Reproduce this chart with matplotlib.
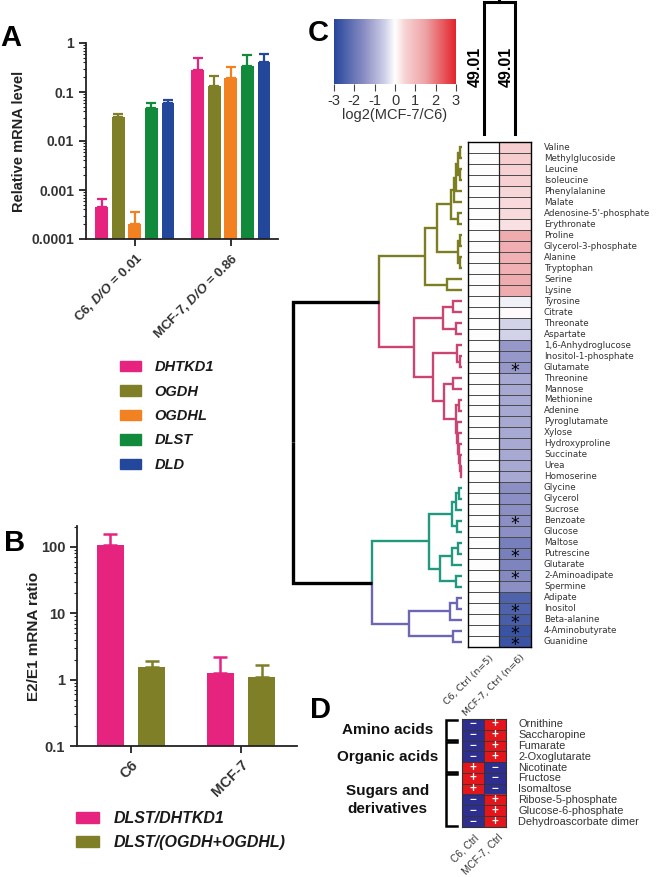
import numpy as np
import matplotlib.pyplot as plt
import matplotlib.patches as mpatches
from matplotlib.colors import LinearSegmentedColormap, ListedColormap
from matplotlib.ticker import NullFormatter

plt.rcParams['font.family'] = ['Liberation Sans', 'DejaVu Sans']
plt.rcParams['mathtext.fontset'] = 'custom'
plt.rcParams['mathtext.bfit'] = 'Liberation Sans:bold:italic'

# ---------------- data ----------------
# panel A
genes = ['DHTKD1', 'OGDH', 'OGDHL', 'DLST', 'DLD']
gene_colors = ['#e6247f', '#7f7f27', '#f28121', '#118a3c', '#23489b']
a_cells = ['C6, $\\mathbfit{D/O}$ = 0.01', 'MCF-7, $\\mathbfit{D/O}$ = 0.86']
a_c6 = [0.00045, 0.031, 0.0002, 0.047, 0.061]
a_c6_err = [0.00022, 0.005, 0.00015, 0.014, 0.008]
a_mcf = [0.28, 0.13, 0.19, 0.34, 0.40]
a_mcf_err = [0.21, 0.08, 0.14, 0.24, 0.20]

# panel B
b_cells = ['C6', 'MCF-7']
b_ratios = ['DLST/DHTKD1', 'DLST/(OGDH+OGDHL)']
b_dhtkd1 = [105, 1.26]
b_dhtkd1_err = [52, 0.93]
b_ogdh = [1.55, 1.08]
b_ogdh_err = [0.33, 0.6]

# panel C
metabolites = ['Valine', 'Methylglucoside', 'Leucine', 'Isoleucine', 'Phenylalanine',
               'Malate', "Adenosine-5'-phosphate", 'Erythronate', 'Proline',
               'Glycerol-3-phosphate', 'Alanine', 'Tryptophan', 'Serine', 'Lysine',
               'Tyrosine', 'Citrate', 'Threonate', 'Aspartate', '1,6-Anhydroglucose',
               'Inositol-1-phosphate', 'Glutamate', 'Threonine', 'Mannose', 'Methionine',
               'Adenine', 'Pyroglutamate', 'Xylose', 'Hydroxyproline', 'Succinate', 'Urea',
               'Homoserine', 'Glycine', 'Glycerol', 'Sucrose', 'Benzoate', 'Glucose',
               'Maltose', 'Putrescine', 'Glutarate', '2-Aminoadipate', 'Spermine',
               'Adipate', 'Inositol', 'Beta-alanine', '4-Aminobutyrate', 'Guanidine']
log2_c6 = [0.0] * 46
log2_mcf = [0.6, 0.6, 0.55, 0.55, 0.45, 0.4, 0.4, 0.35, 1.3, 1.25, 1.2, 1.2, 1.3, 1.3,
            -0.15, 0.05, -0.45, -0.45, -1.35, -1.35, -1.35, -1.1, -1.1, -1.1,
            -1.1, -1.1, -1.1, -1.1, -1.1, -1.1, -1.1, -1.5, -1.5, -1.5, -1.5, -1.5,
            -1.8, -1.8, -1.7, -1.6, -1.5, -2.4, -2.4, -2.5, -2.7, -2.7]
significant = ['Glutamate', 'Benzoate', 'Putrescine', '2-Aminoadipate', 'Inositol',
               'Beta-alanine', '4-Aminobutyrate', 'Guanidine']
heat_cols = ['C6, Ctrl (n=5)', 'MCF-7, Ctrl (n=6)']
cluster_sizes = [14, 17, 10, 5]
cluster_colors = ['#7d7d22', '#cc4470', '#21987f', '#6c66b5']
col_tree_height = 49.01

# row dendrogram: (left, right, height)
y1 = (((((0, 1, 2), (2, 3, 2), 4), 4, 6), 5, 8), (6, 7, 4), 11)
y2 = ((8, 9, 2), (10, 11, 2), 4)
yellow = ((y1, y2, 25), (12, 13, 15), 37)
p_up = ((14, 15, 9), (16, 17, 6), 19)
b2 = ((23, 24, 3), (25, (26, (27, (28, (29, 30, 1), 2), 3), 4), 5), 6)
p_low = ((18, (19, 20, 2), 5), ((21, 22, 9), b2, 18), 29)
pink = (p_up, p_low, 48)
green = ((((31, 32, 3), 33, 6), (34, 35, 5), 10), (((36, 37, 4), 38, 10), (39, 40, 6), 22), 33)
purple = ((((41, 42, 5), 43, 12), (44, 45, 9), 53))
row_tree = ((yellow, pink, 83), (green, purple, 90), 169)

# panel D
d_metabolites = ['Ornithine', 'Saccharopine', 'Fumarate', '2-Oxoglutarate', 'Nicotinate',
                 'Fructose', 'Isomaltose', 'Ribose-5-phosphate', 'Glucose-6-phosphate',
                 'Dehydroascorbate dimer']
d_c6 = [-1, -1, -1, -1, 1, 1, 1, -1, -1, -1]
d_mcf = [1, 1, 1, 1, -1, -1, -1, 1, 1, 1]
d_groups = ['Amino acids', 'Organic acids', 'Sugars and\nderivatives']
d_group_sizes = [2, 3, 5]
d_cols = ['C6, Ctrl', 'MCF-7, Ctrl']

# ---------------- figure ----------------
W, H = 657, 877
fig = plt.figure(figsize=(6.57, 8.77), dpi=100)
dark = '#333333'


def box(l, t, r, b):
    return fig.add_axes([l / W, 1 - b / H, (r - l) / W, (b - t) / H])


def fx(x):
    return x / W


def fy(y):
    return 1 - y / H


def style_bar_axes(ax):
    ax.spines['top'].set_visible(False)
    ax.spines['right'].set_visible(False)
    for s in ('left', 'bottom'):
        ax.spines[s].set_linewidth(1.3)
        ax.spines[s].set_color('#222222')
    ax.tick_params(which='major', length=5, width=1.3, color='#222222', labelcolor=dark)
    ax.tick_params(which='minor', length=2.5, width=0.8, color='#222222')
    ax.yaxis.set_minor_formatter(NullFormatter())


# panel A
axA = box(86, 43, 278, 239)
axA.set_yscale('log')
xa = np.arange(len(a_cells))
for k, g in enumerate(genes):
    pos = xa + (k - 2) * 0.172
    vals = [a_c6[k], a_mcf[k]]
    errs = [a_c6_err[k], a_mcf_err[k]]
    axA.bar(pos, vals, 0.135, color=gene_colors[k])
    axA.errorbar(pos, vals, yerr=[[0, 0], errs], fmt='none', ecolor=gene_colors[k],
                 elinewidth=1.6, capsize=3.4, capthick=1.6)
axA.set_ylim(1e-4, 1)
axA.set_xlim(-0.51, 1.49)
axA.set_yticks([1e-4, 1e-3, 1e-2, 0.1, 1])
axA.set_yticklabels(['0.0001', '0.001', '0.01', '0.1', '1'], fontsize=10, fontweight='bold')
axA.set_xticks(xa)
axA.set_xticklabels(a_cells, rotation=45, ha='right', rotation_mode='anchor',
                    fontsize=9.5, fontweight='bold')
axA.set_ylabel('Relative mRNA level', fontsize=10.5, fontweight='bold', color='#222222', labelpad=4)
style_bar_axes(axA)

fig.legend(handles=[mpatches.Patch(color=c, label=g) for g, c in zip(genes, gene_colors)],
           loc='upper left', bbox_to_anchor=(fx(120), fy(360)), frameon=False,
           prop={'weight': 'bold', 'style': 'italic', 'size': 10.5},
           handlelength=1.45, handleheight=0.75, handletextpad=0.9, labelspacing=0.72,
           borderpad=0, borderaxespad=0, labelcolor='#1a1a1a')

# panel B
axB = box(77, 526, 297, 746)
axB.set_yscale('log')
xb = np.arange(len(b_cells))
b_colors = [gene_colors[0], gene_colors[1]]
for k, (vals, errs) in enumerate([(b_dhtkd1, b_dhtkd1_err), (b_ogdh, b_ogdh_err)]):
    pos = xb + (k - 0.5) * 0.375
    axB.bar(pos, vals, 0.245, color=b_colors[k], label=b_ratios[k])
    axB.errorbar(pos, vals, yerr=[[0, 0], errs], fmt='none', ecolor=b_colors[k],
                 elinewidth=1.8, capsize=5, capthick=1.8)
axB.set_ylim(0.1, 206)
axB.set_xlim(-0.49, 1.51)
axB.set_yticks([0.1, 1, 10, 100])
axB.set_yticklabels(['0.1', '1', '10', '100'], fontsize=10.5, fontweight='bold')
axB.set_xticks(xb)
axB.set_xticklabels(b_cells, rotation=45, ha='right', rotation_mode='anchor',
                    fontsize=10.5, fontweight='bold')
axB.set_ylabel('E2/E1 mRNA ratio', fontsize=11, fontweight='bold', color='#222222', labelpad=0)
style_bar_axes(axB)

fig.legend(handles=[mpatches.Patch(color=c, label=r) for r, c in zip(b_ratios, b_colors)],
           loc='upper left', bbox_to_anchor=(fx(76), fy(811)), frameon=False,
           prop={'weight': 'bold', 'style': 'italic', 'size': 11.5},
           handlelength=1.45, handleheight=0.7, handletextpad=0.9, labelspacing=0.55,
           borderpad=0, borderaxespad=0, labelcolor='#1a1a1a')

# panel C: colour bar
cmap = LinearSegmentedColormap.from_list('bwr_c', [
    (0.0, '#27479c'), (0.25, '#8c8fc4'), (0.4167, '#cfd0e8'), (0.5, '#ffffff'),
    (0.5833, '#f7d3d5'), (0.75, '#eea3a7'), (1.0, '#e3242b')])
axCb = box(334, 19, 456, 84)
axCb.imshow(np.linspace(-3, 3, 256)[None, :], cmap=cmap, vmin=-3, vmax=3,
            extent=(-3, 3, 0, 1), aspect='auto')
for s in axCb.spines.values():
    s.set_visible(False)
axCb.set_yticks([])
ticks = np.arange(-3, 4)
axCb.set_xticks(ticks)
axCb.set_xticklabels([str(t) for t in ticks], fontsize=10.5, color=dark)
axCb.tick_params(axis='x', length=5, width=0.8, color='#444444', pad=2)
axCb.set_xlabel('log2(MCF-7/C6)', fontsize=10.5, color=dark, labelpad=0)

# column dendrogram
axCt = box(468, 2, 531, 134)
axCt.set_xlim(0, 2)
axCt.set_ylim(0, col_tree_height)
axCt.axis('off')
axCt.plot([0.5, 0.5, 1.5, 1.5], [0, col_tree_height, col_tree_height, 0],
          color='black', lw=2.2, solid_joinstyle='miter', clip_on=False)
axCt.plot([1, 1], [col_tree_height, col_tree_height + 1], color='black', lw=2.2, clip_on=False)
for cx in (0.5, 1.5):
    axCt.text(cx - 0.27, col_tree_height * 0.51, f'{col_tree_height:.2f}', rotation=90,
              ha='center', va='center', fontsize=11.5, fontweight='bold')

# heatmap
n = len(metabolites)
axH = box(468, 142, 531, 647)
data = np.column_stack([log2_c6, log2_mcf])
axH.imshow(data, cmap=cmap, vmin=-3, vmax=3, extent=(0, 2, n, 0), aspect='auto',
           interpolation='nearest')
for i in range(1, n):
    axH.axhline(i, color='#4a4a4a', lw=0.7)
axH.axvline(1, color='#222222', lw=0.9)
for s in axH.spines.values():
    s.set_linewidth(1.0)
axH.set_xticks([])
axH.set_yticks([])
for i, m in enumerate(metabolites):
    axH.text(2.41, i + 0.5, m, va='center', ha='left', fontsize=6.3,
             family='DejaVu Sans', color=dark)
    if m in significant:
        axH.text(1.5, i + 0.82, '*', ha='center', va='center', fontsize=12.5, color='black',
                 family='DejaVu Sans')
axH.text(0.78, n + 0.9, heat_cols[0], rotation=45, ha='right', va='center',
         rotation_mode='anchor', fontsize=6.8, family='DejaVu Sans', color=dark, clip_on=False)
axH.text(1.75, n + 0.8, heat_cols[1], rotation=45, ha='right', va='center',
         rotation_mode='anchor', fontsize=6.8, family='DejaVu Sans', color=dark, clip_on=False)
axH.set_xlim(0, 2)
axH.set_ylim(n, 0)

# row dendrogram
axT = box(285, 142, 468, 647)
axT.set_xlim(177, -6)
axT.set_ylim(n, 0)
axT.axis('off')
cluster_of = np.repeat(np.arange(len(cluster_sizes)), cluster_sizes)


def draw(node):
    if isinstance(node, int):
        return node + 0.5, 0.0, {int(cluster_of[node])}
    left, right, h = node
    ya, ha, ca = draw(left)
    yb, hb, cb = draw(right)
    y = (ya + yb) / 2
    for cy, ch, cc in ((ya, ha, ca), (yb, hb, cb)):
        if len(cc) == 1:
            col, lw = cluster_colors[next(iter(cc))], 1.7
        else:
            col, lw = 'black', 2.4
        axT.plot([ch, h, h], [cy, cy, y], color=col, lw=lw,
                 solid_joinstyle='miter', solid_capstyle='butt')
    return y, h, ca | cb


draw(row_tree)

# panel D
m_d = len(d_metabolites)
axD = box(462, 719, 506, 827)
signs = np.column_stack([d_c6, d_mcf])
axD.imshow(signs, cmap=ListedColormap(['#2e2e8e', '#e3161c']), vmin=-1, vmax=1,
           extent=(0, 2, m_d, 0), aspect='auto', interpolation='nearest')
for i in range(1, m_d):
    axD.axhline(i, color='#333333', lw=0.6)
axD.axvline(1, color='#333333', lw=0.6)
for s in axD.spines.values():
    s.set_linewidth(0.8)
    s.set_color('#333333')
axD.set_xticks([])
axD.set_yticks([])
for i in range(m_d):
    for j in range(2):
        axD.text(j + 0.5, i + 0.5, '+' if signs[i, j] > 0 else '\u2212', ha='center',
                 va='center', color='white', fontsize=8.5, fontweight='bold')
    axD.text(2.55, i + 0.5, d_metabolites[i], va='center', ha='left', fontsize=7.9,
             color=dark, clip_on=False)
start = 0
for g, sz in zip(d_groups, d_group_sizes):
    y0, y1b = start + 0.1, start + sz - 0.1
    axD.plot([-0.25, -0.73, -0.73, -0.25], [y0, y0, y1b, y1b], color='black', lw=1.8,
             clip_on=False, solid_joinstyle='miter')
    axD.text(-3.4, start + sz / 2, g, ha='center', va='center', fontsize=11,
             fontweight='bold', color='#111111', linespacing=1.3, clip_on=False)
    start += sz
axD.text(0.68, m_d + 0.9, d_cols[0], rotation=45, ha='right', va='center',
         rotation_mode='anchor', fontsize=7.3, color=dark, clip_on=False)
axD.text(1.75, m_d + 0.8, d_cols[1], rotation=45, ha='right', va='center',
         rotation_mode='anchor', fontsize=7.3, color=dark, clip_on=False)
axD.set_xlim(0, 2)
axD.set_ylim(m_d, 0)

# panel letters
for lab, x, y in [('A', 11, 38), ('B', 15, 543), ('C', 318, 33), ('D', 320, 710)]:
    fig.text(fx(x), fy(y), lab, fontsize=21, fontweight='bold', ha='center', va='center')

fig.savefig('out.png', dpi=100)
